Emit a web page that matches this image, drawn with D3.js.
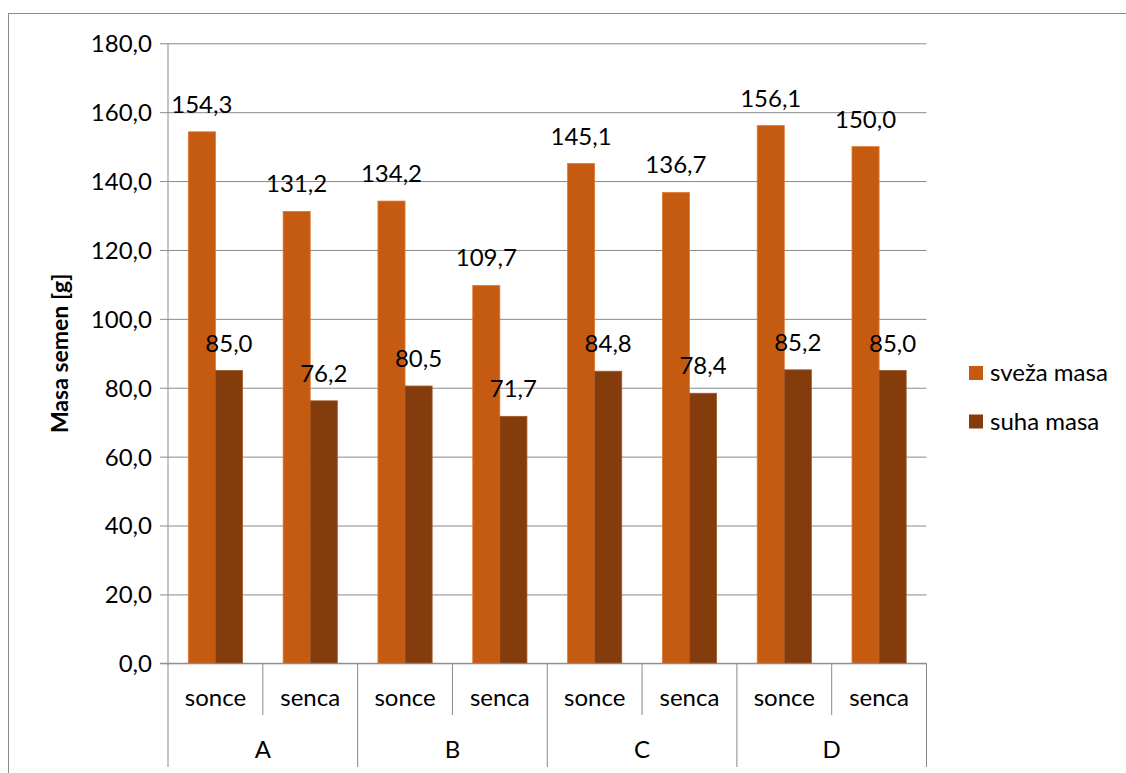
<!DOCTYPE html>
<html>
<head>
<meta charset="utf-8">
<script src="https://cdn.jsdelivr.net/npm/d3@7/dist/d3.min.js"></script>
<style>
  html, body { margin: 0; padding: 0; background: #fff; }
  svg { display: block; }
  text { font-family: Lato, "Open Sans", sans-serif; fill: #000; }
</style>
</head>
<body>
<svg id="chart" width="1126" height="773"></svg>
<script>
// ---- data ----
const groups = ["A", "B", "C", "D"];
const subcats = ["sonce", "senca"];
const seriesNames = ["sveža masa", "suha masa"];
const svezaMasa = [154.3, 131.2, 134.2, 109.7, 145.1, 136.7, 156.1, 150.0];
const suhaMasa  = [85.0, 76.2, 80.5, 71.7, 84.8, 78.4, 85.2, 85.0];
const yTicks = [0, 20, 40, 60, 80, 100, 120, 140, 160, 180];
const yTitle = "Masa semen [g]";
const colors = ["#C55A11", "#843C0C"];

// ---- layout ----
const W = 1126, H = 773;
const plot = { left: 168, right: 926.5, top: 43.3, bottom: 663.3 };
const gridColor = "#898989";
const fontSize = 24;

const svg = d3.select("#chart");

// outer frame
svg.append("rect")
  .attr("x", 8.5).attr("y", 13.5)
  .attr("width", W + 10).attr("height", H + 10)
  .attr("fill", "none").attr("stroke", "#8c8c8c").attr("stroke-width", 1);

// categories
const cats = [];
groups.forEach(g => subcats.forEach(s => cats.push({ group: g, sub: s, key: g + "|" + s })));

const x = d3.scaleBand().domain(cats.map(c => c.key)).range([plot.left, plot.right]).padding(0);
const xs = d3.scaleBand().domain(seriesNames).range([0, x.bandwidth()]).paddingInner(0).paddingOuter(0.75);
const y = d3.scaleLinear().domain([0, 180]).range([plot.bottom, plot.top]);

const fmt = v => d3.format(".1f")(v).replace(".", ",");

// gridlines + y axis
const yAxis = d3.axisLeft(y).tickValues(yTicks).tickFormat(fmt)
  .tickSize(-(plot.right - plot.left)).tickPadding(16);
const gy = svg.append("g").attr("transform", `translate(${plot.left},0)`).call(yAxis);
gy.select(".domain").remove();
gy.selectAll(".tick line").attr("stroke", gridColor).attr("x1", -8).attr("stroke-width", 1);
gy.selectAll(".tick text").attr("font-size", fontSize).attr("font-family", "Lato").attr("fill", "#000").attr("dy", "0.35em");
// vertical y-axis line
svg.append("line")
  .attr("x1", plot.left).attr("x2", plot.left)
  .attr("y1", plot.top).attr("y2", plot.bottom)
  .attr("stroke", gridColor);

// y title
svg.append("text")
  .attr("transform", `translate(68,${(plot.top + plot.bottom) / 2}) rotate(-90)`)
  .attr("text-anchor", "middle")
  .attr("font-size", 23).attr("font-weight", "bold")
  .text(yTitle);

// bars
const seriesData = [svezaMasa, suhaMasa];
seriesNames.forEach((name, si) => {
  const rows = cats.map((c, i) => ({ cat: c.key, v: seriesData[si][i] }));
  svg.append("g").selectAll("rect").data(rows).join("rect")
    .attr("x", d => x(d.cat) + xs(name))
    .attr("width", xs.bandwidth())
    .attr("y", d => y(d.v))
    .attr("height", d => y(0) - y(d.v))
    .attr("fill", colors[si])
    .attr("stroke", si === 0 ? "#E07A35" : "#A0582A")
    .attr("stroke-width", 0.8);
  svg.append("g").selectAll("text").data(rows).join("text")
    .attr("x", d => x(d.cat) + xs(name) + xs.bandwidth() / 2)
    .attr("y", d => y(d.v) - 19)
    .attr("text-anchor", "middle")
    .attr("font-size", fontSize)
    .text(d => fmt(d.v));
});

// category axis
svg.append("line")
  .attr("x1", plot.left - 8).attr("x2", plot.right)
  .attr("y1", plot.bottom).attr("y2", plot.bottom)
  .attr("stroke", gridColor);
cats.forEach((c, i) => {
  const xl = x(c.key);
  const isGroupStart = i % subcats.length === 0;
  svg.append("line")
    .attr("x1", xl).attr("x2", xl)
    .attr("y1", plot.bottom).attr("y2", isGroupStart ? 767 : 715)
    .attr("stroke", gridColor);
  svg.append("text")
    .attr("x", xl + x.bandwidth() / 2).attr("y", 698)
    .attr("dy", "0.35em").attr("text-anchor", "middle")
    .attr("font-size", fontSize).text(c.sub);
});
svg.append("line")
  .attr("x1", plot.right).attr("x2", plot.right)
  .attr("y1", plot.bottom).attr("y2", 767)
  .attr("stroke", gridColor);
groups.forEach((g, gi) => {
  const x0 = x(g + "|" + subcats[0]);
  const x1 = x(g + "|" + subcats[subcats.length - 1]) + x.bandwidth();
  svg.append("text")
    .attr("x", (x0 + x1) / 2).attr("y", 750)
    .attr("dy", "0.35em").attr("text-anchor", "middle")
    .attr("font-size", fontSize).text(g);
});

// legend
const legend = svg.append("g");
seriesNames.forEach((name, si) => {
  const cy = 373 + si * 48.5;
  legend.append("rect")
    .attr("x", 969).attr("y", cy - 7).attr("width", 14).attr("height", 14)
    .attr("fill", colors[si]);
  legend.append("text")
    .attr("x", 990).attr("y", cy).attr("dy", "0.35em")
    .attr("font-size", fontSize).text(name);
});
</script>
</body>
</html>
